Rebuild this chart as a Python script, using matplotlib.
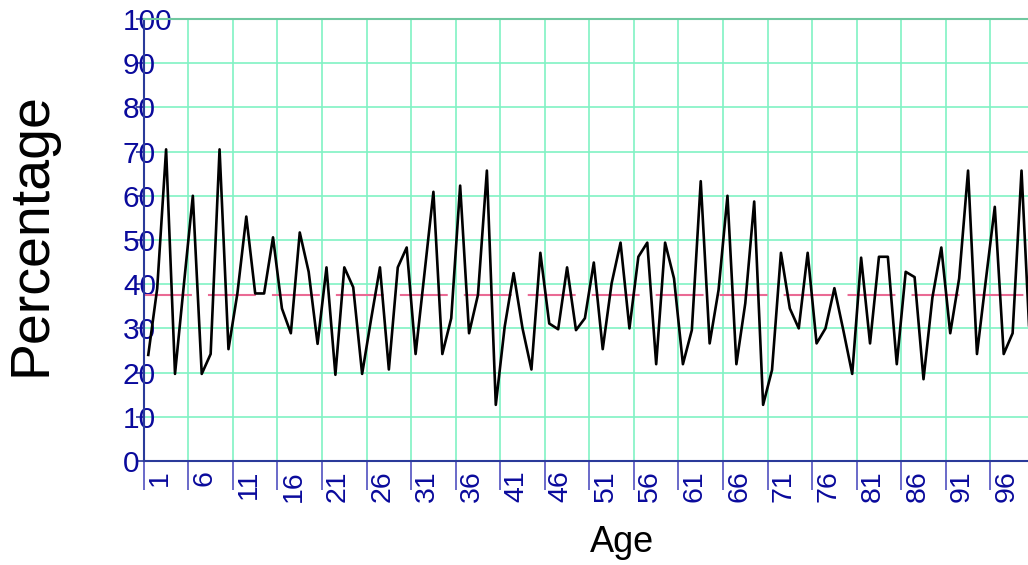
import numpy as np
import matplotlib
matplotlib.use('Agg')
import matplotlib.pyplot as plt

plt.rcParams['font.family'] = ['Liberation Sans', 'DejaVu Sans']

# Percentage per age
ages = list(range(1, 101))
percentage = [
    24.0, 39.0, 70.5, 19.7, 40.0, 60.0, 19.7, 24.2, 70.5, 25.3,
    37.9, 55.3, 37.9, 37.9, 50.6, 34.5, 28.9, 51.7, 42.8, 26.5,
    43.8, 19.5, 43.8, 39.3, 19.7, 32.0, 43.8, 20.7, 43.8, 48.3,
    24.2, 42.5, 60.9, 24.2, 32.3, 62.3, 28.9, 37.6, 65.7, 12.7,
    30.4, 42.5, 30.0, 20.7, 47.1, 31.1, 29.8, 43.8, 29.6, 32.3,
    44.9, 25.3, 40.2, 49.4, 30.0, 46.2, 49.4, 21.9, 49.4, 41.3,
    21.9, 29.6, 63.3, 26.6, 38.7, 60.0, 21.9, 35.7, 58.7, 12.7,
    20.6, 47.1, 34.5, 30.0, 47.1, 26.6, 30.0, 39.1, 29.6, 19.7,
    46.0, 26.6, 46.2, 46.2, 21.9, 42.8, 41.6, 18.5, 37.0, 48.3,
    28.9, 41.3, 65.7, 24.2, 41.0, 57.5, 24.2, 28.9, 65.7, 24.0,
]
x_labels = [str(a) for a in ages[::5]]
y_ticks = list(range(0, 101, 10))

mean_pct = np.mean(percentage)

navy = '#0a0a9c'
axis_col = '#2a3a9a'
grid_col = '#80f2c4'

fig = plt.figure(figsize=(10.28, 5.65), dpi=100)
# the plot area runs a little past the right edge, like the original
ax = fig.add_axes([0.1399, 0.1841, 0.8668, 0.7823])

ax.plot(ages, percentage, color='black', lw=1.9, zorder=3)
ax.axhline(mean_pct, color='#ea6a94', lw=1.5, ls=(0, (23, 7.7)), zorder=2)

ax.set_xlim(0.5, 100.5)
ax.set_ylim(0, 100)

# category boundaries carry the grid and the long tick marks
ax.set_xticks(np.arange(0.5, 101, 5))
ax.set_xticklabels([])
ax.set_xticks(np.array(ages[::5]) + 1.3, minor=True)
ax.set_xticklabels(x_labels, minor=True, rotation=90, color=navy, fontsize=20.5)
ax.tick_params(axis='x', which='major', length=21, width=1.2, color='#5050c0', direction='out')
ax.tick_params(axis='x', which='minor', length=0, pad=6.5)

ax.set_yticks(y_ticks)
ax.set_yticklabels([str(t) for t in y_ticks], color=navy, fontsize=21.5, ha='left')
ax.tick_params(axis='y', length=6, width=1.2, color=axis_col, pad=9)

ax.grid(True, which='major', color=grid_col, lw=1.2, zorder=0)
ax.set_axisbelow(True)

ax.spines['left'].set_color(axis_col)
ax.spines['bottom'].set_color(axis_col)
ax.spines['left'].set_linewidth(1.5)
ax.spines['bottom'].set_linewidth(1.5)
ax.spines['top'].set_color('#70c8a0')
ax.spines['top'].set_linewidth(1.5)
ax.spines['right'].set_visible(False)

fig.text(0.605, 0.040, 'Age', fontsize=26, ha='center', va='center')
fig.text(0.031, 0.585, 'Percentage', fontsize=40, rotation=90, ha='center', va='center')

fig.savefig('out.png', dpi=100)
